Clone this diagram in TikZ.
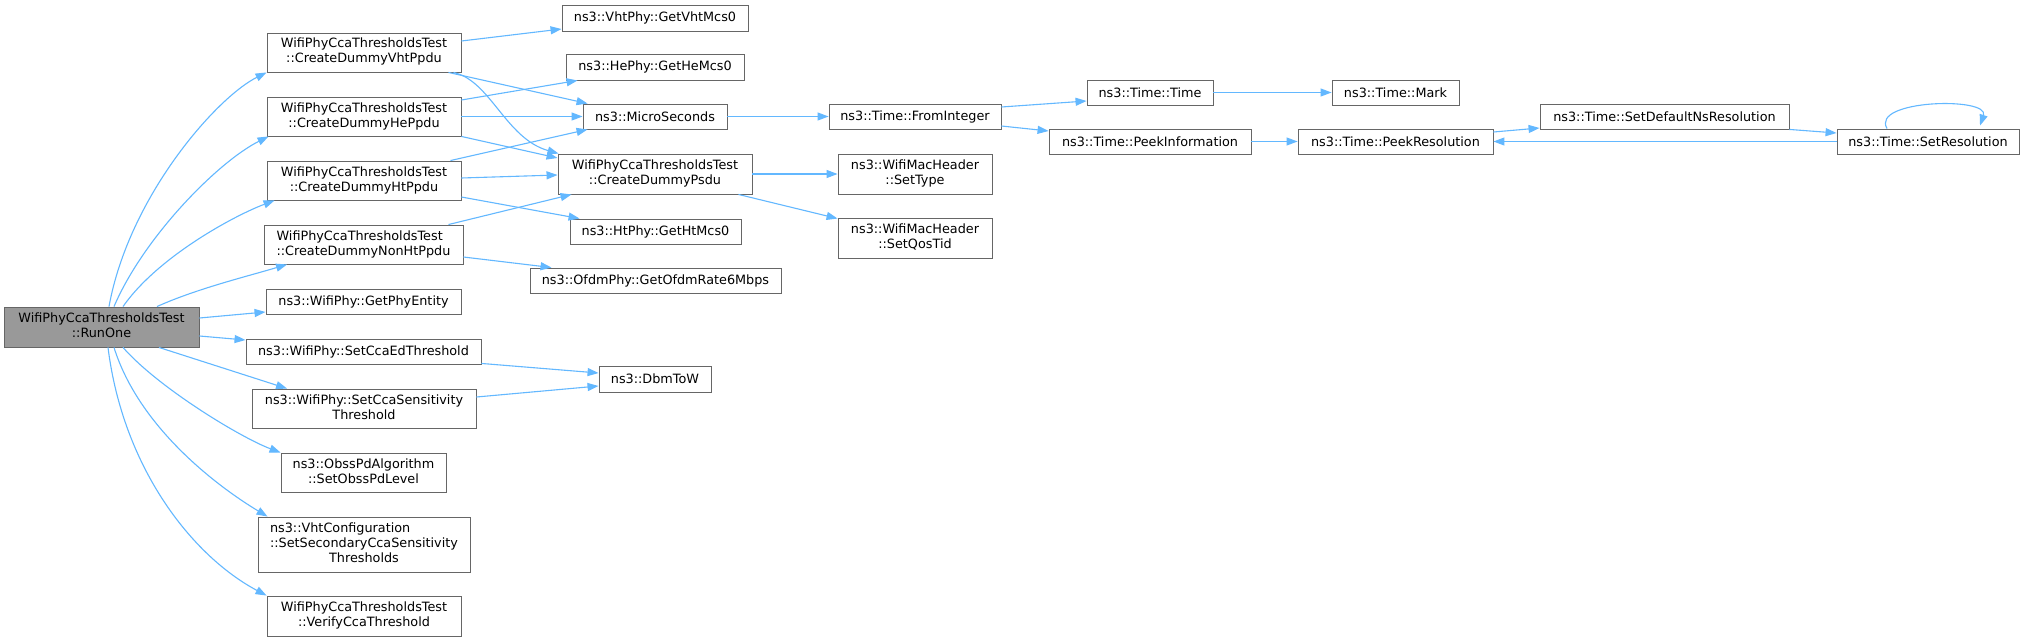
\documentclass[tikz,border=0pt]{standalone}
\usepackage{fontspec}
\setmainfont{DejaVu Sans}
\usetikzlibrary{arrows.meta,calc}
\definecolor{edgeblue}{HTML}{63B8FF}
\definecolor{boxgray}{HTML}{666666}
\definecolor{rootfill}{HTML}{999999}
\newcommand{\dxtwo}[2]{\begin{tabular}{@{}l@{}}#1\\\multicolumn{1}{@{}c@{}}{#2}\end{tabular}}
\newcommand{\dxthree}[3]{\begin{tabular}{@{}l@{}}#1\\#2\\\multicolumn{1}{@{}c@{}}{#3}\end{tabular}}
\begin{document}
\begin{tikzpicture}[x=1pt,y=-1pt,
  box/.style={draw=boxgray, line width=0.9pt, fill=white, inner sep=0pt, align=center,
    font=\fontsize{12.8}{15}\selectfont, text=black},
  root/.style={box, fill=rootfill},
  edge/.style={draw=edgeblue, line width=1.1pt, -{Triangle[length=11pt,width=8pt]}}]
\fill[white] (0,0) rectangle (2025,642);
\useasboundingbox (0,0) rectangle (2025,642);
% column 1
\node[root, minimum width=195, minimum height=40] (runone) at (101.5,327) {\dxtwo{WifiPhyCcaThresholdsTest}{::RunOne}};
% column 2
\node[box, minimum width=194, minimum height=39] (vht) at (364,52.5) {\dxtwo{WifiPhyCcaThresholdsTest}{::CreateDummyVhtPpdu}};
\node[box, minimum width=194, minimum height=39] (he) at (364,116.5) {\dxtwo{WifiPhyCcaThresholdsTest}{::CreateDummyHePpdu}};
\node[box, minimum width=194, minimum height=39] (ht) at (364,180.5) {\dxtwo{WifiPhyCcaThresholdsTest}{::CreateDummyHtPpdu}};
\node[box, minimum width=199, minimum height=39] (nonht) at (363.5,244.5) {\dxtwo{WifiPhyCcaThresholdsTest}{::CreateDummyNonHtPpdu}};
\node[box, minimum width=195, minimum height=25] (getphy) at (363.5,301.5) {ns3::WifiPhy::GetPhyEntity};
\node[box, minimum width=235, minimum height=25] (ccaed) at (363.5,351.5) {ns3::WifiPhy::SetCcaEdThreshold};
\node[box, minimum width=224, minimum height=39] (ccasens) at (364,408.5) {\dxtwo{ns3::WifiPhy::SetCcaSensitivity}{Threshold}};
\node[box, minimum width=165, minimum height=39] (obss) at (363.5,472.5) {\dxtwo{ns3::ObssPdAlgorithm}{::SetObssPdLevel}};
\node[box, minimum width=212, minimum height=55] (vhtconf) at (364,544.5) {\dxthree{ns3::VhtConfiguration}{::SetSecondaryCcaSensitivity}{Thresholds}};
\node[box, minimum width=194, minimum height=40] (verify) at (364,616) {\dxtwo{WifiPhyCcaThresholdsTest}{::VerifyCcaThreshold}};
% column 3
\node[box, minimum width=186, minimum height=26] (vhtmcs) at (655,18) {ns3::VhtPhy::GetVhtMcs0};
\node[box, minimum width=178, minimum height=26] (hemcs) at (655,67) {ns3::HePhy::GetHeMcs0};
\node[box, minimum width=144, minimum height=25] (micro) at (655,116.5) {ns3::MicroSeconds};
\node[box, minimum width=194, minimum height=40] (psdu) at (655,174) {\dxtwo{WifiPhyCcaThresholdsTest}{::CreateDummyPsdu}};
\node[box, minimum width=171, minimum height=25] (htmcs) at (655.5,231.5) {ns3::HtPhy::GetHtMcs0};
\node[box, minimum width=251, minimum height=25] (ofdm) at (655.5,280.5) {ns3::OfdmPhy::GetOfdmRate6Mbps};
\node[box, minimum width=112, minimum height=26] (dbm) at (655,379) {ns3::DbmToW};
% column 4
\node[box, minimum width=172, minimum height=25] (fromint) at (915,116.5) {ns3::Time::FromInteger};
\node[box, minimum width=154, minimum height=40] (settype) at (915,174) {\dxtwo{ns3::WifiMacHeader}{::SetType}};
\node[box, minimum width=154, minimum height=40] (qostid) at (915,238) {\dxtwo{ns3::WifiMacHeader}{::SetQosTid}};
% column 5
\node[box, minimum width=126, minimum height=25] (timetime) at (1150,92.5) {ns3::Time::Time};
\node[box, minimum width=202, minimum height=25] (peekinfo) at (1150,141.5) {ns3::Time::PeekInformation};
% column 6
\node[box, minimum width=127, minimum height=25] (mark) at (1395.5,92.5) {ns3::Time::Mark};
\node[box, minimum width=195, minimum height=25] (peekres) at (1395.5,141.5) {ns3::Time::PeekResolution};
% column 7
\node[box, minimum width=249, minimum height=25] (setdef) at (1664.5,116.5) {ns3::Time::SetDefaultNsResolution};
% column 8
\node[box, minimum width=182, minimum height=25] (setres) at (1928,141.5) {ns3::Time::SetResolution};

% edges from RunOne
\draw[edge] ($(runone.north)+(7.5,0)$) .. controls +(20,-110) and +(-50,25) .. (vht.south west);
\draw[edge] ($(runone.north)+(12.5,0)$) .. controls +(30,-70) and +(-50,25) .. ($(he.south west)+(2,0)$);
\draw[edge] ($(runone.north)+(21.5,0)$) .. controls +(35,-50) and +(-40,15) .. ($(ht.south west)+(8,0)$);
\draw[edge] ($(runone.north)+(55.5,0)$) .. controls +(40,-18) and +(-40,12) .. ($(nonht.south west)+(23.5,0)$);
\draw[edge] ($(runone.east)+(0,-9)$) -- ($(getphy.west)+(0,10.5)$);
\draw[edge] ($(runone.east)+(0,9)$) -- ($(ccaed.west)+(0,-11.5)$);
\draw[edge] ($(runone.south)+(57.5,0)$) -- ($(ccasens.north west)+(35.5,0)$);
\draw[edge] ($(runone.south)+(21.5,0)$) .. controls +(35,40) and +(-40,-15) .. (obss.north west);
\draw[edge] ($(runone.south)+(12.5,0)$) .. controls +(25,80) and +(-50,-30) .. ($(vhtconf.north west)+(10,0)$);
\draw[edge] ($(runone.south)+(6.5,0)$) .. controls +(15,120) and +(-75,-40) .. (verify.north west);
% edges from column 2
\draw[edge] ($(vht.east)+(0,-11.5)$) -- ($(vhtmcs.west)+(0,11)$);
\draw[edge] ($(vht.south east)+(-13,0)$) -- ($(micro.north west)+(5,0)$);
\draw[edge] ($(vht.south east)+(-8,0)$) .. controls +(37,8) and +(-53,-15) .. ($(psdu.north west)+(1,0)$);
\draw[edge] ($(he.east)+(0,-16.5)$) -- ($(hemcs.south west)+(12,0)$);
\draw[edge] (he.east) -- (micro.west);
\draw[edge] (he.south east) -- ($(psdu.west)+(0,-16)$);
\draw[edge] ($(ht.north east)+(-11,0)$) -- ($(micro.south west)+(5,0)$);
\draw[edge] ($(ht.east)+(0,-2.5)$) -- ($(psdu.west)+(0,1)$);
\draw[edge] ($(ht.east)+(0,16.5)$) -- ($(htmcs.north west)+(10,0)$);
\draw[edge] ($(nonht.north east)+(-15,0)$) -- ($(psdu.south west)+(14,0)$);
\draw[edge] ($(nonht.east)+(0,12.5)$) -- ($(ofdm.north west)+(22,0)$);
\draw[edge] ($(ccaed.south east)+(0,-1)$) -- ($(dbm.west)+(0,-6)$);
\draw[edge] ($(ccasens.east)+(0,-11.5)$) -- ($(dbm.west)+(0,7)$);
% edges from column 3
\draw[edge] (micro.east) -- (fromint.west);
\draw[edge] (psdu.east) -- (settype.west);
\draw[edge] ($(psdu.south east)+(-14,0)$) -- ($(qostid.north west)+(0,1)$);
% edges from column 4 onwards
\draw[edge] ($(fromint.east)+(0,-9.5)$) -- ($(timetime.west)+(0,8.5)$);
\draw[edge] ($(fromint.east)+(0,9.5)$) -- ($(peekinfo.west)+(0,-10.5)$);
\draw[edge] (timetime.east) -- (mark.west);
\draw[edge] (peekinfo.east) -- (peekres.west);
\draw[edge] ($(peekres.east)+(0,-9.5)$) -- ($(setdef.west)+(0,11.5)$);
\draw[edge] (setdef.south east) -- ($(setres.west)+(0,-8.5)$);
\draw[edge] (setres.west) -- (peekres.east);
\draw[edge] ($(setres.north)+(-41,0)$) .. controls +(-17,-29) and +(10,-29) .. ($(setres.north)+(52,-3)$);
\end{tikzpicture}
\end{document}
